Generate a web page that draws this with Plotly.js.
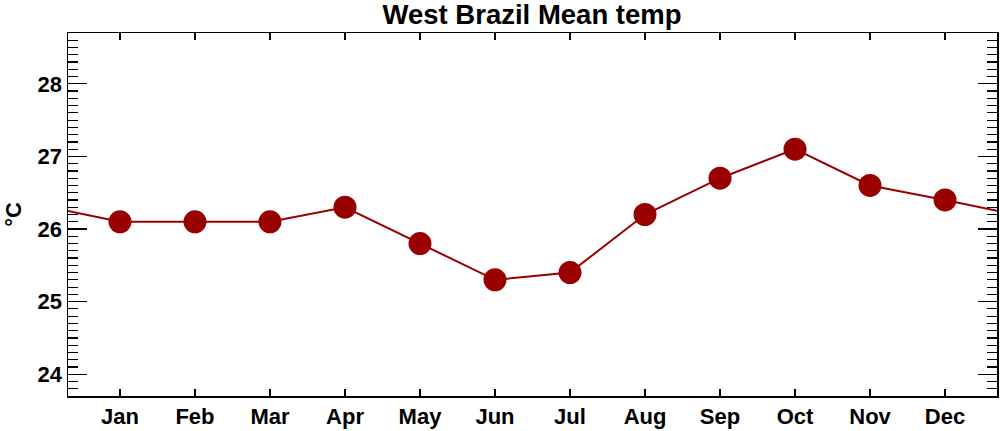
<!DOCTYPE html>
<html>
<head>
<meta charset="utf-8">
<script src="https://cdn.plot.ly/plotly-3.0.1.min.js"></script>
<style>html,body{margin:0;padding:0;background:#fff;}#chart{width:1000px;height:431px;}</style>
</head>
<body>
<div id="chart"></div>
<script>
const months = ["Jan","Feb","Mar","Apr","May","Jun","Jul","Aug","Sep","Oct","Nov","Dec"];
const temps = [26.1, 26.1, 26.1, 26.3, 25.8, 25.3, 25.4, 26.2, 26.7, 27.1, 26.6, 26.4];
const yTicks = [24, 25, 26, 27, 28];

const xIdx = months.map((m, i) => i);
const xMin = -0.693, xMax = 11.693;
const wrapVal = (temps[0] + temps[temps.length - 1]) / 2;

const lineColor = "#990000";
const fontFam = "'Liberation Sans', Arial, Helvetica, sans-serif";

const traces = [
  {
    x: [xMin].concat(xIdx, [xMax]),
    y: [wrapVal].concat(temps, [wrapVal]),
    mode: "lines",
    line: {color: lineColor, width: 2},
    hoverinfo: "skip",
    showlegend: false
  },
  {
    x: xIdx,
    y: temps,
    mode: "markers",
    marker: {color: lineColor, size: 23},
    showlegend: false
  }
];

const layout = {
  width: 1000, height: 431,
  margin: {l: 68, r: 3, t: 33, b: 35, pad: 0},
  paper_bgcolor: "#fff", plot_bgcolor: "#fff",
  font: {family: fontFam, color: "#000"},
  title: {
    text: "<b>West Brazil Mean temp</b>",
    font: {family: fontFam, size: 27.5, color: "#000"},
    x: 0.4995, xanchor: "center", xref: "paper",
    y: 0.9675, yref: "container", yanchor: "middle"
  },
  xaxis: {
    range: [xMin, xMax],
    tickmode: "array",
    tickvals: xIdx,
    ticktext: months.map(m => "<b>" + m + "</b>"),
    ticks: "inside", ticklen: 7, tickwidth: 1.2, tickcolor: "#000",
    showline: true, linecolor: "#000", linewidth: 1.5, mirror: "ticks",
    showgrid: false, zeroline: false,
    tickfont: {family: fontFam, size: 22, color: "#000"}
  },
  yaxis: {
    range: [23.7, 28.7],
    tickmode: "array",
    tickvals: yTicks,
    ticktext: yTicks.map(v => "<b>" + v + "</b>"),
    ticks: "inside", ticklen: 19, tickwidth: 1.2, tickcolor: "#000",
    minor: {dtick: 0.1, tick0: 0, ticks: "inside", ticklen: 10, tickwidth: 1.2, tickcolor: "#000", showgrid: false},
    showline: true, linecolor: "#000", linewidth: 1.5, mirror: "allticks",
    showgrid: false, zeroline: false,
    tickfont: {family: fontFam, size: 22, color: "#000"},
    title: {text: "<b>°C</b>", font: {family: fontFam, size: 22, color: "#000"}, standoff: 10}
  }
};

Plotly.newPlot("chart", traces, layout, {displayModeBar: false, staticPlot: true});
</script>
</body>
</html>
